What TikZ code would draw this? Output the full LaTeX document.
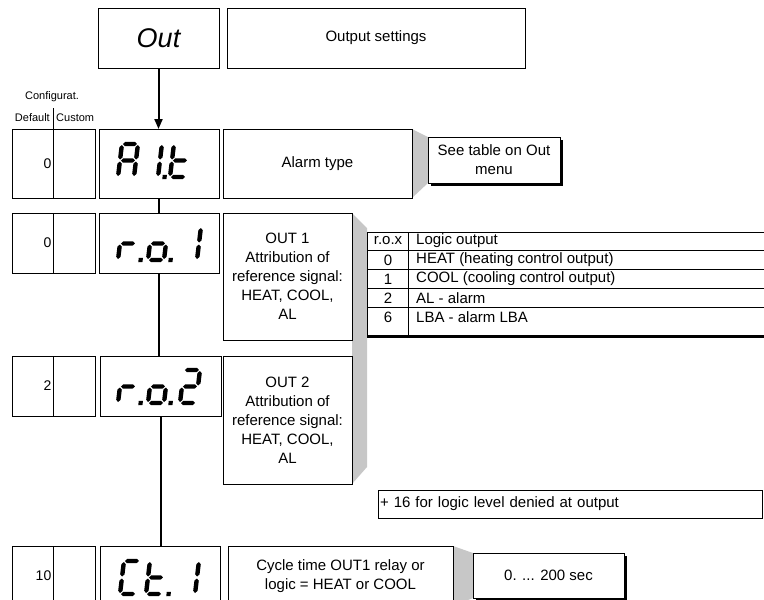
\documentclass[tikz,border=0pt]{standalone}
\usepackage{fontspec}
\setmainfont{Liberation Sans}
\usetikzlibrary{arrows.meta,shadows,positioning,backgrounds}

\tikzset{
  box/.style={draw, line width=0.8pt, inner sep=0pt, outer sep=0pt, anchor=north west,
    align=center, font=\fontsize{15}{19}\selectfont},
  shadowbox/.style={box, fill=white,
    drop shadow={shadow xshift=3pt, shadow yshift=-3pt, fill=black, opacity=1}},
  valtxt/.style={inner sep=1pt, font=\fontsize{14}{16}\selectfont},
  smalltxt/.style={inner sep=1pt, font=\fontsize{11}{13}\selectfont},
  tabtxt/.style={inner sep=0pt, font=\fontsize{15}{19}\selectfont},
  flow/.style={line width=2pt},
  wedge/.style={fill=black!22},
}

% seven segment display
\newcommand{\hseg}[1]{\fill (1,#1) -- (3.2,#1-2.2) -- (12.8,#1-2.2) -- (15,#1) -- (12.8,#1+2.2) -- (3.2,#1+2.2) -- cycle;}
\newcommand{\vseg}[3]{\fill (#1,#2+1) -- (#1+2.2,#2+3.2) -- (#1+2.2,#3-3.2) -- (#1,#3-1) -- (#1-2.2,#3-3.2) -- (#1-2.2,#2+3.2) -- cycle;}
\newcommand{\segA}{\hseg{-33}}
\newcommand{\segB}{\vseg{16}{-33}{-16.5}}
\newcommand{\segC}{\vseg{16}{-16.5}{0}}
\newcommand{\segD}{\hseg{0}}
\newcommand{\segE}{\vseg{0}{-16.5}{0}}
\newcommand{\segF}{\vseg{0}{-33}{-16.5}}
\newcommand{\segG}{\hseg{-16.5}}
\newcommand{\segDot}{\fill (20.5,-2.2) rectangle (24.7,2.2);}
\newcommand{\segdigit}[3]{\begin{scope}[shift={(#1,#2)}, xslant=0.12] #3 \end{scope}}

\begin{document}
\begin{tikzpicture}[x=1pt, y=-1pt]
\useasboundingbox (0,0) rectangle (764,600);
\clip (0,0) rectangle (764,600);

% menu title
\node[box, minimum width=121pt, minimum height=60pt] (out) at (98,8) {\fontsize{27}{32}\selectfont\itshape Out};
\node[box, minimum width=298pt, minimum height=60pt] (outtxt) at (227,8) {Output settings};

% column header
\node[smalltxt] (config) at (52,97) {Configurat.};
\node[smalltxt, anchor=east] (deflt) at (51,118) {Default};
\node[smalltxt, anchor=west] (custom) at (55,118) {Custom};
\coordinate (colsep) at (53,108);

% A1.t
\node[box, minimum width=83pt, minimum height=69pt] (val1) at (12,129) {};
\node[valtxt, left=1pt of val1.center] (v1) {0};
\node[box, minimum width=120pt, minimum height=69pt] (ait) at (99,129) {};
\node[box, minimum width=189pt, minimum height=69pt] (alarm) at (223,129) {Alarm type};
\node[shadowbox, minimum width=132pt, minimum height=46pt] (seetab) at (428,137) {See table on Out\\menu};
\segdigit{118}{177}{\segA\segB\segC\segE\segF\segG}
\segdigit{142}{177}{\segB\segC\segDot}
\segdigit{170}{177}{\segD\segE\segF\segG}

% r.o.1
\node[box, minimum width=83pt, minimum height=60pt] (val2) at (12,213) {};
\node[valtxt, left=1pt of val2.center] (v2) {0};
\node[box, minimum width=120pt, minimum height=60pt] (ro1) at (99,213) {};
\node[box, minimum width=129pt, minimum height=127pt] (out1) at (223,213)
  {OUT 1\\Attribution of\\reference signal:\\HEAT, COOL,\\AL};
\segdigit{118}{260}{\segE\segG\segDot}
\segdigit{148}{260}{\segC\segD\segE\segG\segDot}
\segdigit{181}{260}{\segB\segC}

% r.o.2
\node[box, minimum width=83pt, minimum height=60pt] (val3) at (12,356) {};
\node[valtxt, left=1pt of val3.center] (v3) {2};
\node[box, minimum width=121pt, minimum height=60pt] (ro2) at (100,356) {};
\node[box, minimum width=129pt, minimum height=128pt] (out2) at (223,356)
  {OUT 2\\Attribution of\\reference signal:\\HEAT, COOL,\\AL};
\segdigit{118}{403}{\segE\segG\segDot}
\segdigit{148}{403}{\segC\segD\segE\segG\segDot}
\segdigit{180}{403}{\segA\segB\segG\segE\segD}

% table of r.o.x
\foreach \y in {232,250,269,288,307}
  \draw[line width=0.8pt] (367,\y) -- (764,\y);
\draw[line width=0.8pt] (367,232) -- (367,336);
\draw[line width=0.8pt] (408,232) -- (408,336);
\draw[line width=3pt] (367,336) -- (764,336);
\foreach \c/\t [count=\i from 0] in {r.o.x/Logic output, 0/HEAT (heating control output),
    1/COOL (cooling control output), 2/AL - alarm, 6/LBA - alarm LBA} {
  \node[tabtxt] (rox\i) at (388,241+19*\i) {\c};
  \node[tabtxt, anchor=west] (logic\i) at (416,241+19*\i) {\t};
}

\node[box, minimum height=28pt, text width=380pt, inner xsep=2pt, align=left] (deny) at (378,490)
  {+ 16 for logic level denied at output};

% Ct.1
\node[box, minimum width=83pt, minimum height=60pt] (val4) at (12,546) {};
\node[valtxt, left=1pt of val4.center] (v4) {10};
\node[box, minimum width=120pt, minimum height=60pt] (ct1) at (100,546) {};
\node[box, minimum width=225pt, minimum height=60pt] (cycle) at (228,546)
  {Cycle time OUT1 relay or\\logic = HEAT or COOL};
\node[shadowbox, minimum width=151pt, minimum height=45pt] (secs) at (473,553) {0. ... 200 sec};
\segdigit{120}{594}{\segA\segD\segE\segF}
\segdigit{146}{594}{\segD\segE\segF\segG\segDot}
\segdigit{179}{594}{\segB\segC}

% column dividers
\draw[line width=0.8pt] (colsep) -- (colsep |- val1.south);
\draw[line width=0.8pt] (val2.north) -- (val2.south);
\draw[line width=0.8pt] (val3.north) -- (val3.south);
\draw[line width=0.8pt] (val4.north) -- (val4.south);

% flow line
\draw[flow, -{Triangle[length=10pt, width=8pt]}] (out.south) -- (out.south |- ait.north);
\draw[flow] (ait.south) -- (ait.south |- ro1.north);
\draw[flow] (ro1.south) -- (ro1.south |- ro2.north);
\draw[flow] (ro2.south) -- (ro2.south |- ct1.north);

% grey links
\begin{scope}[on background layer]
  \fill[wedge] (alarm.north east) -- (428,137) -- (428,183) -- (alarm.south east) -- cycle;
  \fill[wedge] (out1.north east) -- ++(15,15) -- (367,467) -- (out2.south east) -- cycle;
  \fill[wedge] (cycle.north east) -- (473,553) -- (473,598) -- (cycle.south east) -- cycle;
\end{scope}
\end{tikzpicture}
\end{document}
